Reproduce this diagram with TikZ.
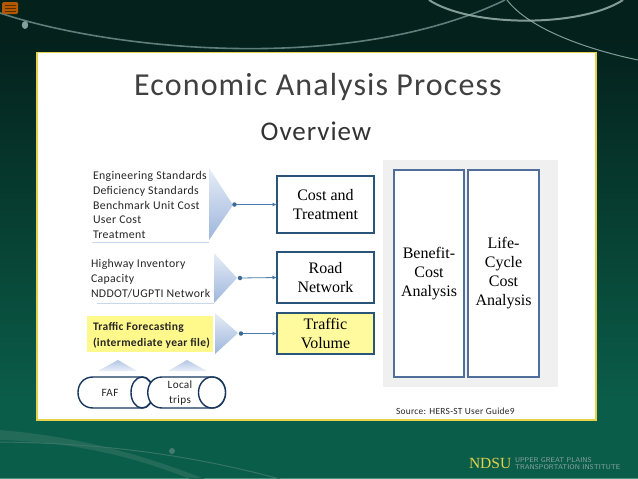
\documentclass[tikz,border=0pt]{standalone}
\usepackage{fontspec}
\setmainfont{Liberation Serif}
\newfontfamily\calib[LetterSpace=3]{Carlito}
\newfontfamily\titlef[LetterSpace=3.5]{Carlito}
\usetikzlibrary{arrows.meta,calc}
\definecolor{boxblue}{HTML}{2A5578}
\definecolor{colblue}{HTML}{4F6E9A}
\definecolor{linkblue}{HTML}{4A7BAF}
\definecolor{fadeblue}{HTML}{9DB6DC}
\definecolor{navy}{HTML}{17365D}
\definecolor{swoosh}{HTML}{6F8F8A}
\definecolor{gold}{HTML}{E4D24A}
\definecolor{bgtop}{HTML}{04211C}
\definecolor{bgbot}{HTML}{0A5D49}
\definecolor{bgstrip}{HTML}{4F9080}
\tikzset{
  x=1pt,y=-1pt,
  every node/.style={inner sep=0pt,outer sep=0pt},
  mainbox/.style={draw=boxblue,line width=1.5pt,fill=white,align=center,font=\fontsize{16}{19}\selectfont},
  colbox/.style={draw=colblue,line width=1.5pt,fill=white,align=center,font=\fontsize{16}{19}\selectfont},
  listtext/.style={anchor=north west,align=left,text=black!85,font=\calib\fontsize{11.8}{14.7}\selectfont},
  boldtext/.style={anchor=north west,align=left,text=black!85,font=\calib\bfseries\fontsize{11.5}{16.5}\selectfont},
  linkdot/.style={circle,fill=linkblue!85!black,minimum size=4.5pt},
  link/.style={draw=linkblue,line width=0.8pt,-{Latex[length=4.5pt,width=4pt]}},
  funnel/.style={top color=fadeblue!25,bottom color=fadeblue,draw=none},
  baseline/.style={draw=fadeblue!55,line width=1pt},
  upfunnel/.style={top color=fadeblue!80,bottom color=fadeblue!20,draw=none},
  cyl/.style={draw=navy,line width=1.4pt,fill=white},
  cyltext/.style={align=center,text=black!85,font=\calib\fontsize{11.2}{15}\selectfont},
}
\begin{document}
\begin{tikzpicture}
\useasboundingbox (0,0) rectangle (638,479);
% background
\fill[bgtop] (0,0) rectangle (638,40);
\shade[top color=bgtop,bottom color=bgbot] (0,40) rectangle (638,400);
\fill[bgbot] (0,400) rectangle (638,479);
\fill[bgstrip] (0,477.5) rectangle (638,479);
% decorative curves
\draw[swoosh,line width=1.6pt,opacity=.85] (0,13) .. controls (110,50) and (350,75) .. (505,0);
\draw[swoosh!70!white,line width=2pt,opacity=.85] (429,0) .. controls (470,27) and (580,28) .. (623,0);
\draw[swoosh!70!white,line width=1pt,opacity=.85] (507,0) .. controls (530,30) and (590,50) .. (638,60);
\fill[swoosh!85!white] (25,25) ellipse (3.2 and 4);
\fill[swoosh!60!bgbot] (172,451) circle (3);
\fill[swoosh!25!bgbot] (0,430) .. controls (70,436) and (130,450) .. (205,479) -- (190,479) .. controls (130,455) and (70,442) .. (0,440) -- cycle;
\draw[swoosh!45!bgbot,line width=1pt] (0,442) .. controls (90,443) and (180,452) .. (280,479);
% comment icon
\fill[orange!70!black,rounded corners=1.5pt] (2,2) rectangle (18,14);
\draw[orange!35!black,line width=.5pt] (4.5,5) -- (15.5,5) (4.5,8) -- (15.5,8) (4.5,11) -- (15.5,11);
% logo
\node[anchor=west,text=gold,font=\fontsize{15.5}{15}\selectfont] (ndsu) at (469,463.5) {NDSU};
\node[anchor=west,align=left,text=swoosh!80!white,font=\sffamily\fontsize{6.9}{7.6}\selectfont] (ugp) at (515,463.5) {UPPER GREAT PLAINS\\TRANSPORTATION INSTITUTE};
% frame
\draw[gold,line width=1.8pt,fill=white] (37,52.5) rectangle (596,420);
% titles
\node[font=\titlef\fontsize{32}{36}\selectfont,text=black!75] (title) at (318,87) {Economic Analysis Process};
\node[font=\titlef\fontsize{27}{30}\selectfont,text=black!80] (overview) at (316,131) {Overview};
% grey panel
\fill[black!6] (383,160) rectangle (558,387);
\node[colbox,minimum width=70pt,minimum height=207pt] (bc) at (429,273.5) {Benefit-\\Cost\\Analysis};
\node[colbox,minimum width=71pt,minimum height=207pt] (lc) at (503.5,273.5) {Life-\\Cycle\\Cost\\Analysis};
% row 1
\shade[funnel] (209,168) -- (233,205) -- (209,240) -- cycle;
\draw[baseline] (92,242) -- (209,242);
\node[listtext] (list1) at (93,171.5) {Engineering Standards\\Deficiency Standards\\Benchmark Unit Cost\\User Cost\\Treatment};
% row 2
\shade[funnel] (214,253) -- (237,278) -- (214,303) -- cycle;
\draw[baseline] (97,303) -- (214,303);
\node[listtext] (list2) at (91,259.5) {Highway Inventory\\Capacity\\NDDOT/UGPTI Network};
% row 3
\fill[yellow!45,draw=none] (87,316) rectangle (213,352);
\shade[funnel] (215,313) -- (238,333) -- (215,354) -- cycle;
\node[boldtext] (list3) at (93,322) {Traffic Forecasting\\(intermediate year file)};
% boxes
\node[mainbox,minimum width=97pt,minimum height=57pt] (cost) at (325.5,204.5) {Cost and\\Treatment};
\node[mainbox,minimum width=97pt,minimum height=51pt] (road) at (325.5,277.5) {Road\\Network};
\node[mainbox,fill=yellow!38,minimum width=97pt,minimum height=41pt] (vol) at (325.5,333.5) {Traffic\\Volume};
% connectors
\node[linkdot] (d1) at (234.5,204.5) {};
\node[linkdot] (d2) at (240,278) {};
\node[linkdot] (d3) at (241,333.5) {};
\draw[link] (d1) -- (cost.west);
\draw[link] (d2) -- (road.west);
\draw[link] (d3) -- (vol.west);
% up funnels
\shade[upfunnel] (98,371) -- (118,360) -- (137,371) -- cycle;
\shade[upfunnel] (168,371) -- (187,360) -- (207,371) -- cycle;
% cylinders
\draw[cyl] (93,377) -- (142,377) .. controls (157,377) and (157,408) .. (142,408) -- (93,408) .. controls (73,408) and (73,377) .. (93,377) -- cycle;
\draw[cyl] (142,392.5) ellipse (11 and 15.5);
\node[cyltext] (faf) at (110,393) {FAF};
\draw[cyl] (162,377) -- (212,377) .. controls (230,377) and (230,408) .. (212,408) -- (162,408) .. controls (143,408) and (143,377) .. (162,377) -- cycle;
\draw[cyl] (212,392.5) ellipse (13.5 and 15.5);
\node[cyltext] (local) at (180,393) {Local\\trips};
% source
\node[anchor=west,font=\calib\fontsize{9.4}{11}\selectfont,text=black!85] (src) at (396,411) {Source: HERS-ST User Guide9};
\end{tikzpicture}
\end{document}
